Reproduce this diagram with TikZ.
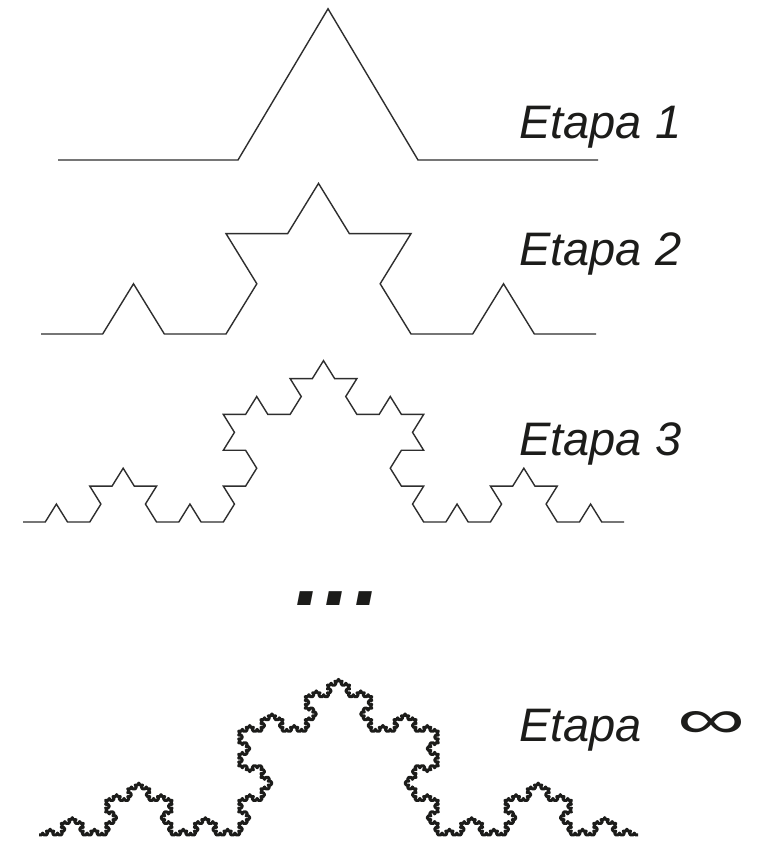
\documentclass[tikz,border=0pt]{standalone}
\usepackage{fontspec}
\usepackage{graphicx}
\setmainfont{Liberation Sans}

% turn (in degrees) contributed by one base-4 digit of a Koch segment index
\pgfmathdeclarefunction{kturn}{1}{\pgfmathparse{60*((#1)==1)-60*((#1)==2)}}
% heading of segment #1 of a Koch curve (orders up to 5)
\pgfmathdeclarefunction{kochdir}{1}{%
  \pgfmathparse{kturn(mod(#1,4))+kturn(mod(int((#1+0.5)/4),4))%
    +kturn(mod(int((#1+0.5)/16),4))+kturn(mod(int((#1+0.5)/64),4))%
    +kturn(mod(int((#1+0.5)/256),4))}}

\definecolor{ink}{HTML}{1C1C1A}
\definecolor{wire}{HTML}{2E2E2E}

\tikzset{
  kochthin/.style={draw=wire, line width=1.4pt, line join=miter},
  kochthick/.style={draw=ink, line width=3pt, line join=round},
  etapa/.style={font=\fontsize{47}{47}\selectfont\itshape, text=ink,
    anchor=base west, inner sep=0pt},
}

\begin{document}
\begin{tikzpicture}[x=1pt, y=1pt]
  \useasboundingbox (0,0) rectangle (762,842);
  \fill[white] (0,0) rectangle (762,842);

  % Etapa 1
  \begin{scope}[shift={(58,682)}, yscale=0.97]
    \coordinate (st1) at (0,0);
    \draw[kochthin] (st1) \foreach \k [evaluate=\k as \dir using {kochdir(\k)}]
      in {0,...,3} { -- ++(\dir:180) };
  \end{scope}
  \node[etapa] (lab1) at (519,703) {Etapa 1};

  % Etapa 2
  \begin{scope}[shift={(41,508)}, yscale=0.94]
    \coordinate (st2) at (0,0);
    \draw[kochthin] (st2) \foreach \k [evaluate=\k as \dir using {kochdir(\k)}]
      in {0,...,15} { -- ++(\dir:61.667) };
  \end{scope}
  \node[etapa] (lab2) at (519,576) {Etapa 2};

  % Etapa 3
  \begin{scope}[shift={(23,320)}, yscale=0.93]
    \coordinate (st3) at (0,0);
    \draw[kochthin] (st3) \foreach \k [evaluate=\k as \dir using {kochdir(\k)}]
      in {0,...,63} { -- ++(\dir:22.259) };
  \end{scope}
  \node[etapa] (lab3) at (519,386) {Etapa 3};

  % ellipsis
  \node[font=\fontsize{93}{93}\selectfont\bfseries\itshape, text=ink,
    anchor=base west, inner sep=0pt] (dots) at (295,236)
    {.\kern3.7pt.\kern3.7pt.};

  % limit curve
  \begin{scope}[shift={(39,7)}, yscale=0.90]
    \coordinate (st4) at (0,0);
    \draw[kochthick] (st4) \foreach \k [evaluate=\k as \dir using {kochdir(\k)}]
      in {0,...,1023} { -- ++(\dir:2.4650) };
  \end{scope}
  \node[etapa] (lab4) at (519,100) {Etapa};
  \node[text=ink, inner sep=0pt] (inf) at (712,117)
    {\resizebox{68pt}{27pt}{∞}};
\end{tikzpicture}
\end{document}
